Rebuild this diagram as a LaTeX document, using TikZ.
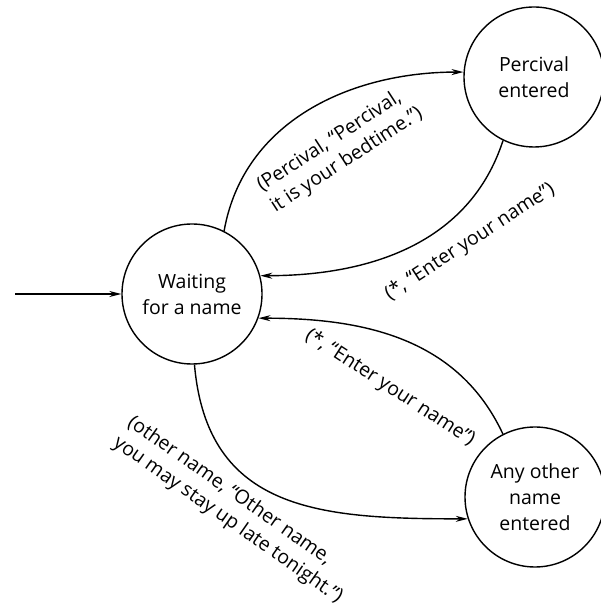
\documentclass[tikz,border=0pt]{standalone}
\usepackage{fontspec}
\setmainfont{Open Sans}
\usetikzlibrary{arrows.meta}

\begin{document}
\begin{tikzpicture}[x=1pt,y=1pt,
    state/.style={draw,circle,line width=1.4pt,minimum size=140pt,inner sep=0pt,align=center,font=\fontsize{19.5}{26}\selectfont},
    lbl/.style={align=left,font=\fontsize{19.5}{25}\selectfont,inner sep=0pt},
    arr/.style={line width=1.4pt,-{Stealth[length=12pt,width=6pt]}}]
        \useasboundingbox (0, 0) rectangle (600, 615);
        \node[state] (wait) at (192, 321) {Waiting\\for a name};
        \node[state] (perc) at (534, 538) {Percival\\entered};
        \node[state] (any) at (535, 118) {Any other\\name\\entered};
        \coordinate (start) at (15, 321);
        \draw[arr] (start) -- (wait);
        \draw[arr] (wait.63) to[out=80,in=180] (perc.176);
        \draw[arr] (perc.244) to[out=-108,in=0] (wait.15);
        \draw[arr] (any.117) to[out=115,in=0] (wait.-20);
        \draw[arr] (wait.-88) to[out=-85,in=180,looseness=1.2] (any.-162);
        \node[lbl,rotate=33] at (340, 465) {(Percival, “Percival,\\it is your bedtime.”)};
        \node[lbl,rotate=33] at (470, 373) {(*, “Enter your name”)};
        \node[lbl,rotate=-33] at (390, 227) {(*, “Enter your name”)};
        \node[lbl,rotate=-35] at (235, 105) {(other name, “Other name,\\you may stay up late tonight.”)};
    \end{tikzpicture}
\end{document}
